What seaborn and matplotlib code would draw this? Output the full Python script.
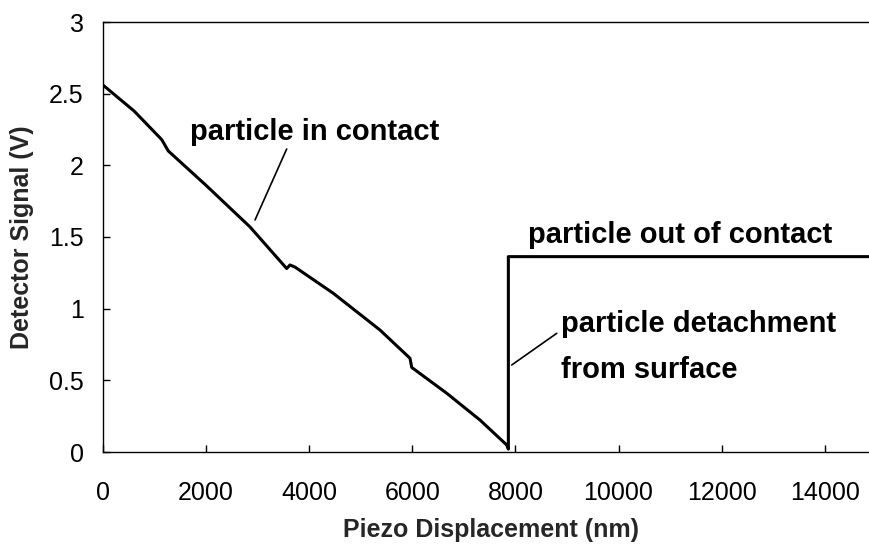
import numpy as np
import pandas as pd
import matplotlib
matplotlib.use("Agg")
import matplotlib.pyplot as plt
import seaborn as sns

# Force-displacement trace: detector signal vs. piezo displacement
displacement_nm = [0, 600, 1138, 1267, 2000, 2852, 3563, 3628, 3725, 4468,
                   5373, 5955, 5988, 6667, 7313, 7831, 7863, 7863, 15000]
signal_v = [2.56, 2.38, 2.18, 2.10, 1.86, 1.57, 1.28, 1.305, 1.29, 1.107,
            0.851, 0.654, 0.59, 0.41, 0.223, 0.049, 0.02, 1.363, 1.363]

x_ticks = [0, 2000, 4000, 6000, 8000, 10000, 12000, 14000]
y_ticks = [0, 0.5, 1, 1.5, 2, 2.5, 3]
y_tick_labels = ["0", "0.5", "1", "1.5", "2", "2.5", "3"]

df = pd.DataFrame({"Piezo Displacement (nm)": displacement_nm,
                   "Detector Signal (V)": signal_v})

sns.set_style("ticks")
plt.rcParams["font.family"] = ["Liberation Sans", "DejaVu Sans"]

fig = plt.figure(figsize=(8.69, 5.44), dpi=100)
# axes extends slightly past the right edge of the figure
ax_w = 773.3
ax_h = 430
ax = fig.add_axes([103 / 869, 92 / 544, ax_w / 869, ax_h / 544])

sns.lineplot(data=df, x="Piezo Displacement (nm)", y="Detector Signal (V)",
             sort=False, estimator=None, color="black", linewidth=2.2, ax=ax)

ax.set_xlim(0, 15000)
ax.set_ylim(0, 3)
ax.set_xticks(x_ticks)
ax.set_yticks(y_ticks)
ax.set_yticklabels(y_tick_labels)
ax.tick_params(direction="in", length=5, width=1, colors="black",
               labelsize=18)
ax.tick_params(axis="x", pad=21)
ax.tick_params(axis="y", pad=14)
for side in ["left", "bottom", "top"]:
    ax.spines[side].set_linewidth(1.0)
    ax.spines[side].set_color("black")
ax.spines["right"].set_visible(False)

ax.set_xlabel("Piezo Displacement (nm)", fontsize=18, fontweight="bold")
ax.set_ylabel("Detector Signal (V)", fontsize=18, fontweight="bold")
ax.xaxis.set_label_coords((491 - 103) / ax_w, -66 / ax_h)
ax.yaxis.set_label_coords((34 - 103) / ax_w, 0.5)

note_kw = dict(fontsize=21, fontweight="bold", color="black")
line_kw = dict(arrowstyle="-", color="black", lw=1.2, shrinkA=0, shrinkB=0)

ax.text(4113, 2.233, "particle in contact", ha="center", va="center", **note_kw)
ax.annotate("", xy=(2949, 1.619), xytext=(3563, 2.114), arrowprops=line_kw)

ax.text(8244, 1.514, "particle out of contact", ha="left", va="center", **note_kw)

ax.text(8885, 0.893, "particle detachment", ha="left", va="center", **note_kw)
ax.text(8885, 0.572, "from surface", ha="left", va="center", **note_kw)
ax.annotate("", xy=(7928, 0.607), xytext=(8801, 0.828), arrowprops=line_kw)

fig.savefig("out.png", dpi=100)
